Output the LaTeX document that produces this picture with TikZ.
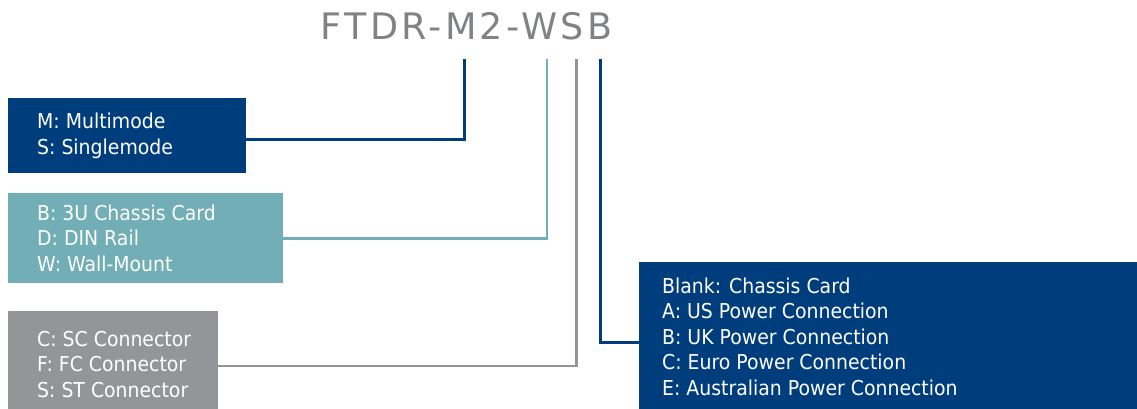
\documentclass[tikz,border=0pt]{standalone}
\usepackage{fontspec}
\setmainfont{DejaVu Sans}[FakeStretch=0.92]
\newfontfamily\titlefont{DejaVu Sans}[LetterSpace=9]
\definecolor{dblue}{RGB}{0,61,125}
\definecolor{teal}{RGB}{114,174,181}
\definecolor{gbox}{RGB}{147,149,152}
\definecolor{gtitle}{RGB}{128,130,133}
\begin{document}
\begin{tikzpicture}[x=1pt,y=-1pt,
  codebox/.style={anchor=north west, inner sep=0pt, draw=none},
  codetext/.style={anchor=west, inner sep=0pt, align=left, text=white,
    font=\fontsize{20.5}{25.4}\selectfont},
  link/.style={line width=2.8pt},
]
\useasboundingbox (0,0) rectangle (1137,409);
\node[anchor=base, text=gtitle, font=\titlefont\fontsize{36.5}{40}\selectfont, inner sep=0pt] (title) at (466.5,39.5) {FTDR-M2-WSB};

\node[codebox, fill=dblue, minimum width=238, minimum height=75] (b1) at (8,98) {};
\node[codebox, fill=teal, minimum width=275, minimum height=90] (b2) at (8,193) {};
\node[codebox, fill=gbox, minimum width=210, minimum height=98] (b3) at (8,311) {};
\node[codebox, fill=dblue, minimum width=498, minimum height=147] (b4) at (639,262) {};

\node[codetext, xshift=29pt, yshift=0pt] (l1) at (b1.west) {M: Multimode\\S: Singlemode};
\node[codetext, xshift=29pt, yshift=0pt] (l2) at (b2.west) {B: 3U Chassis Card\\D: DIN Rail\\W: Wall-Mount};
\node[codetext, xshift=29pt, yshift=-4pt] (l3) at (b3.west) {C: SC Connector\\F: FC Connector\\S: ST Connector};
\node[codetext, xshift=23pt, yshift=-1pt] (l4) at (b4.west) {Blank: Chassis Card\\A: US Power Connection\\B: UK Power Connection\\C: Euro Power Connection\\E: Australian Power Connection};

\coordinate (t1) at (464.5,59);
\coordinate (t2) at (547,59);
\coordinate (t3) at (576.5,59);
\coordinate (t4) at (600.5,59);

\draw[link, dblue] ([yshift=-3.8pt]b1.east) -| (t1);
\draw[link, teal] (b2.east) -| (t2);
\draw[link, gbox] ([yshift=-5.7pt]b3.east) -| (t3);
\draw[link, dblue] ([yshift=-7pt]b4.west) -| (t4);
\end{tikzpicture}
\end{document}
